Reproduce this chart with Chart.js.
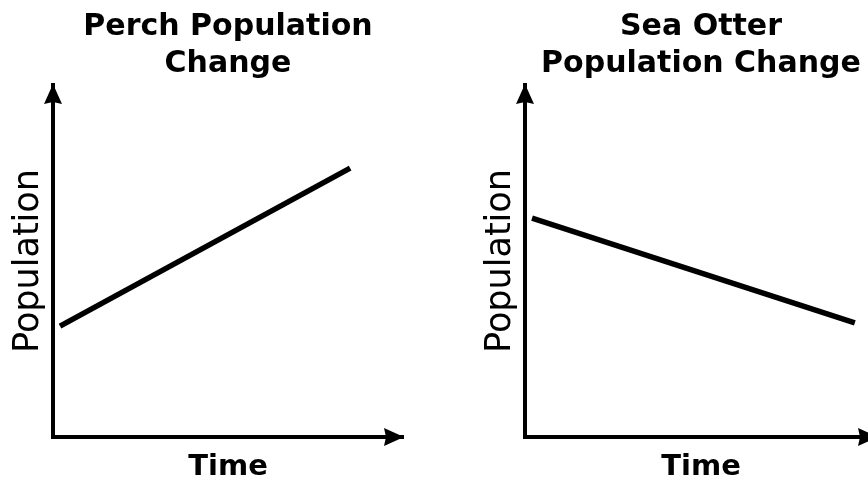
<!DOCTYPE html>
<html>
<head>
<meta charset="utf-8">
<script src="https://cdn.jsdelivr.net/npm/chart.js@4.4.1/dist/chart.umd.min.js"></script>
<style>
    html, body { margin: 0; padding: 0; background: #fff; overflow: hidden; width: 868px; height: 483px; }
    canvas { position: absolute; top: 0; }
    #perchChart { left: 0; }
    #otterChart { left: 472px; }
</style>
</head>
<body>
<canvas id="perchChart" width="456" height="483"></canvas>
<canvas id="otterChart" width="458" height="483"></canvas>
<script>
// Chart data (time and population on a 0-100 scale, no units in the original)
const perchTitle = ['Perch Population', 'Change'];
const perchTime = [2.0, 84.9];
const perchPopulation = [31.5, 76.4];

const otterTitle = ['Sea Otter', 'Population Change'];
const otterTime = [2.0, 93.7];
const otterPopulation = [62.2, 32.4];

const xLabel = 'Time';
const yLabel = 'Population';
const FONT = '"DejaVu Sans", Verdana, sans-serif';

// Draw arrow heads at the ends of the axes
const axisArrows = {
    id: 'axisArrows',
    afterDraw(chart) {
        const { ctx, chartArea } = chart;
        const len = 19, half = 9;
        ctx.save();
        ctx.fillStyle = '#000';
        // x axis arrow
        ctx.beginPath();
        ctx.moveTo(chartArea.right + 1, chartArea.bottom);
        ctx.lineTo(chartArea.right - len, chartArea.bottom - half);
        ctx.lineTo(chartArea.right - len + 2, chartArea.bottom);
        ctx.lineTo(chartArea.right - len, chartArea.bottom + half);
        ctx.closePath();
        ctx.fill();
        // y axis arrow
        ctx.beginPath();
        ctx.moveTo(chartArea.left, chartArea.top - 1);
        ctx.lineTo(chartArea.left - half, chartArea.top + len);
        ctx.lineTo(chartArea.left, chartArea.top + len - 2);
        ctx.lineTo(chartArea.left + half, chartArea.top + len);
        ctx.closePath();
        ctx.fill();
        ctx.restore();
    }
};

function buildChart(canvasId, title, times, values) {
    const ctx = document.getElementById(canvasId).getContext('2d');
    return new Chart(ctx, {
        type: 'line',
        data: {
            datasets: [{
                data: times.map((t, i) => ({ x: t, y: values[i] })),
                borderColor: '#000',
                borderWidth: 5.5,
                borderCapStyle: 'butt',
                pointRadius: 0,
                tension: 0
            }]
        },
        options: {
            responsive: false,
            animation: false,
            layout: { padding: 0 },
            plugins: {
                legend: { display: false },
                tooltip: { enabled: false },
                title: {
                    display: true,
                    text: title,
                    color: '#000',
                    font: { family: FONT, size: 30, weight: 'bold', lineHeight: 37 / 30 },
                    padding: { top: 9, bottom: 2 }
                }
            },
            scales: {
                x: {
                    type: 'linear',
                    min: 0,
                    max: 100,
                    grid: { display: false },
                    ticks: { display: false },
                    border: { display: true, color: '#000', width: 4 },
                    title: {
                        display: true,
                        text: xLabel,
                        color: '#000',
                        font: { family: FONT, size: 29, weight: 'bold', lineHeight: 1 },
                        padding: { top: 0, bottom: 1 }
                    },
                    afterFit: scale => { scale.height = 46; }
                },
                y: {
                    type: 'linear',
                    min: 0,
                    max: 100,
                    grid: { display: false },
                    ticks: { display: false },
                    border: { display: true, color: '#000', width: 4 },
                    title: {
                        display: true,
                        text: yLabel,
                        color: '#000',
                        font: { family: FONT, size: 35, weight: 'normal', lineHeight: 1 },
                        padding: { top: 11, bottom: 0 }
                    },
                    afterFit: scale => { scale.width = 53; }
                },
                // empty axis on the right keeps the title centred over the plot
                yRight: {
                    type: 'linear',
                    position: 'right',
                    grid: { display: false },
                    ticks: { display: false },
                    border: { display: false },
                    afterFit: scale => { scale.width = 53; }
                }
            }
        },
        plugins: [axisArrows]
    });
}

buildChart('perchChart', perchTitle, perchTime, perchPopulation);
buildChart('otterChart', otterTitle, otterTime, otterPopulation);
</script>
</body>
</html>
